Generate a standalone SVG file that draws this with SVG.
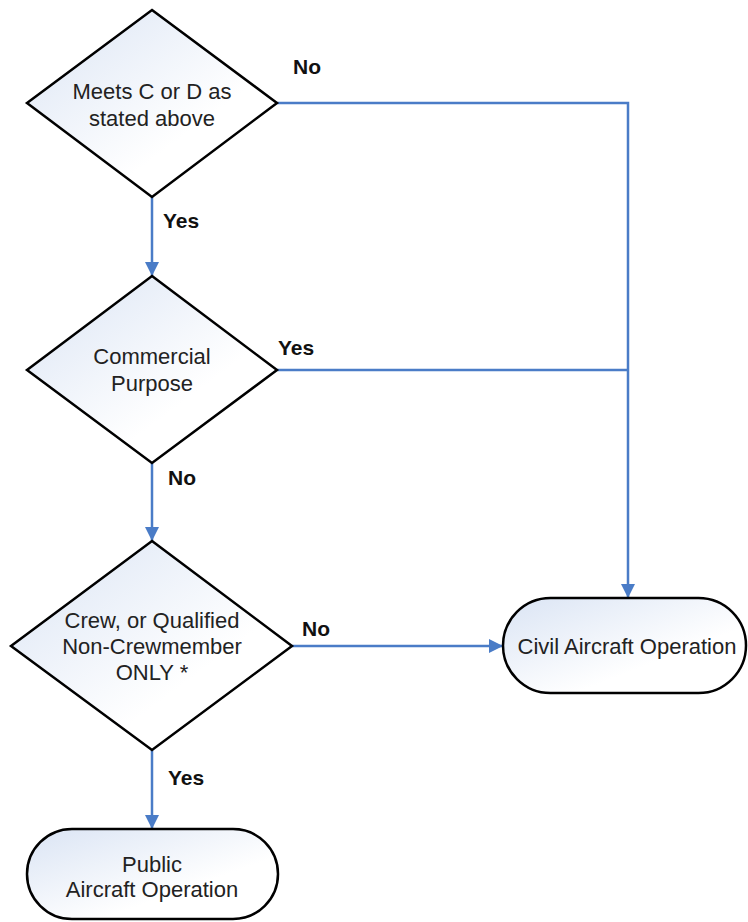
<svg xmlns="http://www.w3.org/2000/svg" width="748" height="922" viewBox="0 0 748 922">
<defs>
<linearGradient id="g" x1="0" y1="0" x2="1" y2="1">
<stop offset="0" stop-color="#dae4f4"/>
<stop offset="0.65" stop-color="#ffffff"/>
<stop offset="1" stop-color="#ffffff"/>
</linearGradient>
<marker id="ah" markerWidth="14" markerHeight="14" refX="14" refY="7" orient="auto" markerUnits="userSpaceOnUse">
<path d="M0,0 L14,7 L0,14 Z" fill="#4a7cc7"/>
</marker>
<style>
.shape{fill:url(#g);stroke:#000;stroke-width:2.5;}
.t{font-family:"Liberation Sans",Arial,sans-serif;font-size:22px;fill:#222;text-anchor:middle;}
.l{font-family:"Liberation Sans",Arial,sans-serif;font-size:21px;font-weight:bold;fill:#111;}
.c{fill:none;stroke:#4a7cc7;stroke-width:2.5;}
</style>
</defs>
<rect width="748" height="922" fill="#fff"/>
<g id="connectors">
<path class="c" d="M277,103 H628 V598" marker-end="url(#ah)"/>
<path class="c" d="M277,370 H628"/>
<path class="c" d="M152,197 V276" marker-end="url(#ah)"/>
<path class="c" d="M152,463 V541" marker-end="url(#ah)"/>
<path class="c" d="M292,646 H503" marker-end="url(#ah)"/>
<path class="c" d="M152,750 V829" marker-end="url(#ah)"/>
<text class="l" x="293" y="74">No</text>
<text class="l" x="163" y="228">Yes</text>
<text class="l" x="278" y="355">Yes</text>
<text class="l" x="168" y="485">No</text>
<text class="l" x="302" y="636">No</text>
<text class="l" x="168" y="785">Yes</text>
</g>
<g id="d1">
<polygon class="shape" points="152,10 277,103 152,197 27,103"/>
<text class="t" x="152" y="99">Meets C or D as</text>
<text class="t" x="152" y="126">stated above</text>
</g>
<g id="d2">
<polygon class="shape" points="152,276 277,370 152,463 27,370"/>
<text class="t" x="152" y="364">Commercial</text>
<text class="t" x="152" y="391">Purpose</text>
</g>
<g id="d3">
<polygon class="shape" points="152,541 292,646 152,750 11,646"/>
<text class="t" x="152" y="628">Crew, or Qualified</text>
<text class="t" x="152" y="654">Non-Crewmember</text>
<text class="t" x="152" y="680">ONLY *</text>
</g>
<g id="civil">
<rect class="shape" x="503" y="598" width="243" height="95" rx="47.5" ry="47.5"/>
<text class="t" x="627" y="654">Civil Aircraft Operation</text>
</g>
<g id="public">
<rect class="shape" x="27" y="829" width="251" height="90" rx="45" ry="45"/>
<text class="t" x="152" y="872">Public</text>
<text class="t" x="152" y="897">Aircraft Operation</text>
</g>
</svg>
